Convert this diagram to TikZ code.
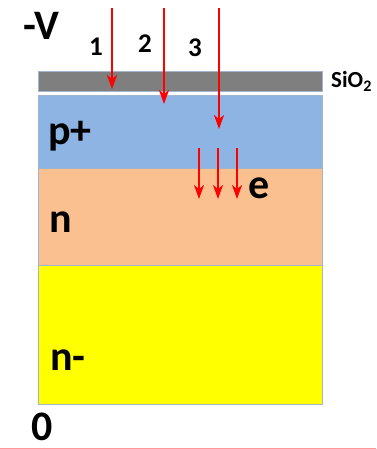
\documentclass[tikz,border=0pt]{standalone}
\usepackage{fontspec}
\setmainfont{Carlito}
\usetikzlibrary{arrows.meta}
\definecolor{oxgray}{HTML}{7F7F7F}
\definecolor{pblue}{HTML}{8EB4E3}
\definecolor{npeach}{HTML}{FAC090}
\definecolor{nyellow}{HTML}{FFFF00}
\definecolor{edgec}{HTML}{A3B5CC}
\definecolor{rayred}{HTML}{FF0000}
\definecolor{lightred}{HTML}{FF9999}
\begin{document}
\begin{tikzpicture}[x=1pt,y=-1pt,
  layer/.style={draw=edgec,line width=1pt},
  ray/.style={draw=rayred,line width=2.2pt,-{Stealth[length=14pt,width=10pt,inset=4pt]}},
  big/.style={font=\bfseries\fontsize{42}{44}\selectfont,inner sep=0pt,anchor=base west},
  small/.style={font=\bfseries\fontsize{27}{29}\selectfont,inner sep=0pt,anchor=base west}]
\useasboundingbox (0,0) rectangle (376,449);
\draw[layer,fill=oxgray] (38,72) rectangle (322,92);
\draw[layer,fill=pblue] (38,96) rectangle (322,168);
\draw[layer,fill=npeach] (38,168) rectangle (322,265);
\draw[layer,fill=nyellow] (38,265) rectangle (322,404);
\coordinate (bl) at (0,448.5); \coordinate (br) at (376,448.5);
\draw[draw=lightred,line width=1pt] (bl) -- (br);
\coordinate (r1s) at (112,8); \coordinate (r1e) at (112,89);
\coordinate (r2s) at (164,8); \coordinate (r2e) at (164,104);
\coordinate (r3s) at (219,8); \coordinate (r3e) at (219,129);
\draw[ray] (r1s) -- (r1e);
\draw[ray] (r2s) -- (r2e);
\draw[ray] (r3s) -- (r3e);
\coordinate (e1s) at (199,148); \coordinate (e1e) at (199,199);
\coordinate (e2s) at (218,148); \coordinate (e2e) at (218,199);
\coordinate (e3s) at (237,148); \coordinate (e3e) at (237,199);
\draw[ray] (e1s) -- (e1e);
\draw[ray] (e2s) -- (e2e);
\draw[ray] (e3s) -- (e3e);
\node[big] (mv) at (23,40) {-V};
\node[big] (zero) at (31,440) {0};
\node[small] (l1) at (89,56) {1};
\node[small] (l2) at (138,53) {2};
\node[small] (l3) at (188,57) {3};
\node[small,font=\bfseries\fontsize{23}{25}\selectfont] (sio) at (331,88) {SiO\textsubscript{2}};
\node[big] (pp) at (48,145) {p+};
\node[big] (nn) at (49,232) {n};
\node[big] (nm) at (50,370) {n-};
\node[big] (ee) at (248,198) {e};
\end{tikzpicture}
\end{document}
